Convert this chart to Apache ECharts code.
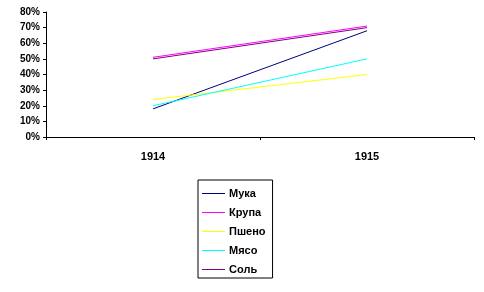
<!DOCTYPE html>
<html><head><meta charset="utf-8">
<script src="https://cdn.jsdelivr.net/npm/echarts@6/dist/echarts.min.js"></script>
<style>html,body{margin:0;padding:0;background:#fff}#c{width:484px;height:292px}</style>
</head><body><div id="c"></div>
<script>
const categories = ['1914', '1915'];
const seriesNames = ['Мука', 'Крупа', 'Пшено', 'Мясо', 'Соль'];
const muka = [18, 68];
const krupa = [51, 71];
const psheno = [24, 40];
const myaso = [20, 50];
const sol = [50, 70];
const colors = ['#000080', '#FF00FF', '#FFFF00', '#00FFFF', '#800080'];
const values = [muka, krupa, psheno, myaso, sol];

const chart = echarts.init(document.getElementById('c'), null, {renderer: 'canvas'});
const font = 'Arial, "Liberation Sans", sans-serif';
chart.setOption({
  animation: false,
  backgroundColor: '#fff',
  grid: {left: 46, right: 10, top: 12, bottom: 155, containLabel: false},
  xAxis: {
    type: 'category', data: categories, boundaryGap: true,
    axisLine: {lineStyle: {color: '#000', width: 1}},
    axisTick: {show: true, length: 3, lineStyle: {color: '#000'}},
    axisLabel: {color: '#000', fontFamily: font, fontWeight: 'bold', fontSize: 11, margin: 14},
    splitLine: {show: false}
  },
  yAxis: {
    type: 'value', min: 0, max: 80, interval: 10,
    axisLine: {show: true, lineStyle: {color: '#000', width: 1}},
    axisTick: {show: true, length: 3, lineStyle: {color: '#000'}},
    axisLabel: {color: '#000', fontFamily: font, fontWeight: 'bold', fontSize: 10, margin: 6,
      formatter: v => v + '%'},
    splitLine: {show: false}
  },
  legend: {
    orient: 'vertical', left: 198, top: 180,
    padding: [7, 7, 2, 4],
    borderColor: '#000', borderWidth: 1,
    icon: 'rect',
    itemWidth: 23, itemHeight: 1, itemGap: 6,
    data: seriesNames.map((n, i) => ({name: n, itemStyle: {color: colors[i]}})),
    textStyle: {color: '#000', fontFamily: font, fontWeight: 'bold', fontSize: 11, lineHeight: 13, padding: [0,0,0,-1]}
  },
  series: seriesNames.map((n, i) => ({
    name: n, type: 'line', data: values[i], symbol: 'none',
    lineStyle: {color: colors[i], width: 1}, itemStyle: {color: colors[i]}
  }))
});
</script></body></html>
